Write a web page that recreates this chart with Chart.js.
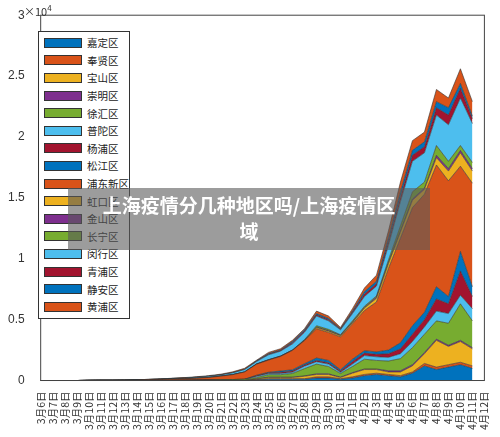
<!DOCTYPE html>
<html><head><meta charset="utf-8">
<script src="https://cdn.jsdelivr.net/npm/chart.js@4/dist/chart.umd.min.js"></script>
<style>
body{margin:0;background:#fff;font-family:"Noto Sans CJK SC",sans-serif}
#wrap{position:relative;width:500px;height:437px}
#legend{position:absolute;left:38px;top:31px;width:90px;border:1px solid #333;background:#fff;padding:2px 0}
.row{display:flex;align-items:center;height:17.6px;font-size:10.5px;color:#222;white-space:nowrap}
.sw{width:38px;height:10px;margin:0 5px 0 5px;border:1px solid #333;box-sizing:border-box;flex:none}
#wm{position:absolute;left:68px;top:188px;width:362px;height:62px;background:rgba(90,90,90,0.6);color:#fff;font-weight:bold;font-size:19px;text-align:center;line-height:26px;padding-top:4px;box-sizing:border-box}
#exp{position:absolute;left:24px;top:2px;font-size:11px;color:#333}
</style></head><body>
<div id="wrap"><canvas id="c" width="500" height="437"></canvas>
<div id="legend"></div>
<div id="exp">×10<sup style="font-size:8px">4</sup></div>
<div id="wm">上海疫情分几种地区吗/上海疫情区<br>域</div>
</div>
<script>
const labels=["3月6日","3月7日","3月8日","3月9日","3月10日","3月11日","3月12日","3月13日","3月14日","3月15日","3月16日","3月17日","3月18日","3月19日","3月20日","3月21日","3月22日","3月23日","3月24日","3月25日","3月26日","3月27日","3月28日","3月29日","3月30日","3月31日","4月1日","4月2日","4月3日","4月4日","4月5日","4月6日","4月7日","4月8日","4月9日","4月10日","4月11日","4月12日"];
const names=["嘉定区","奉贤区","宝山区","崇明区","徐汇区","普陀区","杨浦区","松江区","浦东新区","虹口区","金山区","长宁区","闵行区","青浦区","静安区","黄浦区"];
const colors=["#0072BD","#D95319","#EDB120","#7E2F8E","#77AC30","#4DBEEE","#A2142F"];
const Z=[0,0,0,0,0,0,0,0,0,0,0,0,0,0,0,0,0,0];
const jiading=Z.concat([.005,.01,.01,.01,.01,.02,.02,.01,.02,.04,.05,.04,.03,.06,.12,.09,.11,.13,.10]);
const fengxian=Z.concat([.002,.005,.005,.005,.005,.01,.01,.005,.01,.01,.01,.01,.01,.01,.02,.02,.02,.02,.02]);
const baoshan=Z.concat([.005,.01,.01,.01,.02,.02,.02,.01,.03,.04,.03,.02,.03,.05,.08,.22,.15,.17,.14]);
const chongming=Z.concat([.002,.003,.003,.003,.003,.005,.005,.003,.005,.005,.005,.01,.01,.01,.01,.01,.01,.01,.01]);
const xuhui=[0,0,0,0,0,0,0,0,0,0,.001,.002,.003,.004,.005,.006,.008,.01].concat([.01,.02,.02,.03,.06,.08,.06,.03,.05,.08,.07,.08,.10,.14,.15,.15,.18,.30,.22]);
const putuo=Z.concat([.01,.01,.01,.01,.02,.02,.02,.01,.02,.03,.03,.03,.04,.05,.06,.08,.08,.07,.10]);
const yangpu=Z.concat([.005,.005,.01,.01,.01,.01,.01,.01,.02,.02,.02,.03,.04,.06,.06,.10,.08,.20,.10]);
const songjiang=Z.concat([.005,.005,.01,.01,.01,.02,.02,.01,.02,.02,.02,.03,.05,.07,.06,.10,.06,.16,.08]);
const pudong=[0,0,0,0,.002,.003,.003,.004,.005,.006,.008,.01,.012,.015,.02,.03,.04,.06].concat([.09,.10,.12,.16,.19,.24,.23,.27,.29,.33,.41,.67,.86,.97,.97,1.0,.95,.70,.85]);
const hongkou=Z.concat([0,0,0,0,0,.01,.01,.01,.01,.02,.03,.04,.05,.06,.04,.06,.08,.11,.10]);
const jinshan=Z.concat([.002,.003,.003,.003,.003,.005,.005,.003,.005,.005,.01,.01,.01,.01,.01,.02,.02,.02,.02]);
const changning=Z.concat([0,0,0,0,.005,.01,.01,.005,.01,.01,.01,.02,.04,.06,.05,.08,.06,.04,.05]);
const minhang=[0,0,0,0,0,0,0,0,.002,.003,.004,.005,.006,.008,.01,.01,.015,.02].concat([.02,.04,.04,.05,.06,.08,.07,.04,.06,.08,.08,.12,.20,.25,.24,.25,.30,.39,.32]);
const qingpu=Z.concat([.003,.005,.005,.01,.01,.01,.01,.005,.01,.02,.02,.03,.04,.05,.05,.06,.08,.08,.04]);
const jingan=Z.concat([.003,.005,.005,.01,.01,.01,.01,.005,.01,.02,.02,.03,.04,.04,.04,.05,.06,.04,.02]);
const huangpu=[0,0,0,0,0,0,0,0,0,0,0,.002,.003,.004,.005,.006,.008,.01].concat([.005,.01,.01,.01,.01,.02,.02,.01,.02,.03,.05,.06,.08,.08,.08,.10,.08,.12,.12]);
const series=[jiading,fengxian,baoshan,chongming,xuhui,putuo,yangpu,songjiang,pudong,hongkou,jinshan,changning,minhang,qingpu,jingan,huangpu];
const yTicks=[0,0.5,1,1.5,2,2.5,3];

const datasets=series.map((d,i)=>({label:names[i],data:d,backgroundColor:colors[i%7],borderColor:"#333",borderWidth:0.6,fill:i===0?"origin":"-1",pointRadius:0,tension:0}));
const lg=document.getElementById('legend');
names.forEach((n,i)=>{lg.innerHTML+=`<div class="row"><div class="sw" style="background:${colors[i%7]}"></div>${n}</div>`;});
const box={id:'box',afterDraw(c){const a=c.chartArea,x=c.ctx;x.save();x.strokeStyle='#444';x.lineWidth=1;x.strokeRect(a.left,a.top,a.right-a.left,a.bottom-a.top);x.restore();}};
new Chart(document.getElementById('c'),{type:'line',data:{labels,datasets},plugins:[box],
options:{responsive:false,animation:false,layout:{padding:{top:14,right:12,left:0,bottom:4}},
plugins:{legend:{display:false},tooltip:{enabled:false}},
scales:{x:{offset:false,grid:{display:false},border:{display:false},ticks:{autoSkip:false,maxRotation:90,minRotation:90,font:{size:10.5,family:"Noto Sans CJK SC"},color:'#333',padding:3}},
y:{stacked:true,min:0,max:3,afterBuildTicks(s){s.ticks=yTicks.map(v=>({value:v}));},grid:{display:false},border:{display:false},ticks:{font:{size:12},color:'#333',padding:8,callback:v=>String(v)}}}}});
</script></body></html>
